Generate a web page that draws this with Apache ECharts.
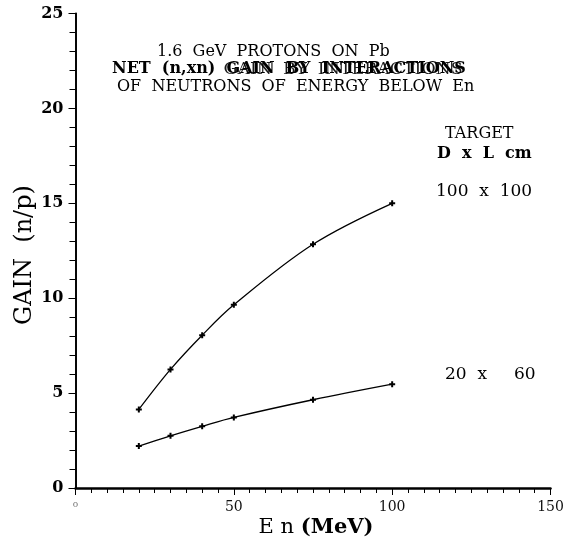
<!DOCTYPE html>
<html>
<head>
<meta charset="utf-8">
<script src="https://cdn.jsdelivr.net/npm/echarts@6/dist/echarts.min.js"></script>
<style>
  html, body { margin: 0; padding: 0; background: #fff; }
  #chart { width: 572px; height: 542px; }
</style>
</head>
<body>
<div id="chart"></div>
<script>
// Neutron energy cut (MeV) and net (n,xn) gain for two target sizes
const energy = [20, 30, 40, 50, 75, 100];
const gain100x100 = [4.14, 6.25, 8.05, 9.65, 12.84, 15.0];
const gain20x60 = [2.21, 2.75, 3.25, 3.72, 4.65, 5.47];

const xRange = [0, 150];
const yRange = [0, 25];

const SERIF = 'DejaVu Serif';
const INK = '#000';

function toPairs(xs, ys) {
  return xs.map((x, i) => [x, ys[i]]);
}

// width of a string in a given font, used to line up the overprinted heading
function textWidth(text, weight, size) {
  const ctx = document.createElement('canvas').getContext('2d');
  ctx.font = weight + ' ' + size + 'px "' + SERIF + '"';
  return ctx.measureText(text).width;
}

const markerPath = 'path://M2,0H4V2H6V4H4V6H2V4H0V2H2Z';

function curve(name, values) {
  return {
    name: name,
    type: 'line',
    xAxisIndex: 0,
    yAxisIndex: 0,
    data: toPairs(energy, values),
    smooth: 0.35,
    symbol: markerPath,
    symbolSize: 6,
    itemStyle: { color: INK },
    lineStyle: { color: INK, width: 1.3 },
    animation: false
  };
}

function label(left, top, text, size, weight, extra) {
  return {
    type: 'text', left: left, top: top,
    style: Object.assign({ text: text, fontFamily: SERIF, fontSize: size, fontWeight: weight || 'normal', fill: INK }, extra || {})
  };
}

// second heading line is printed twice (bold, then a lighter pass slightly offset)
const headLead = 'NET  (n,xn)  ';
const headTail = 'GAIN  BY  INTERACTIONS';
const headLeft = 112;
const headSize = 16;
const tailX = headLeft + textWidth(headLead, 'bold', headSize);
const overSize = headSize * textWidth(headTail, 'bold', headSize) / textWidth(headTail, 'normal', headSize);

const chart = echarts.init(document.getElementById('chart'), null, { renderer: 'canvas' });

chart.setOption({
  backgroundColor: '#fff',
  animation: false,
  grid: { left: 75.5, right: 21.5, top: 13.5, bottom: 54, containLabel: false },
  xAxis: [
    {
      type: 'value', position: 'bottom', min: xRange[0], max: xRange[1], interval: 50,
      axisLine: { lineStyle: { color: INK, width: 2.5 } },
      axisTick: { length: 7, lineStyle: { color: INK, width: 1 } },
      splitLine: { show: false },
      axisLabel: {
        margin: 12, fontFamily: SERIF, fontSize: 14, color: '#111',
        formatter: v => (v === 0 ? '{o|o}' : String(v)),
        rich: { o: { fontSize: 9, color: '#777', fontFamily: SERIF } }
      }
    },
    {
      type: 'value', position: 'top', min: xRange[0], max: xRange[1], interval: 5,
      axisLine: { lineStyle: { color: INK, width: 1 } },
      axisTick: { inside: true, length: 5, lineStyle: { color: INK, width: 1 } },
      axisLabel: { show: false },
      splitLine: { show: false }
    }
  ],
  yAxis: [
    {
      type: 'value', position: 'left', min: yRange[0], max: yRange[1], interval: 5,
      axisLine: { lineStyle: { color: INK, width: 1.5 } },
      axisTick: { length: 7, lineStyle: { color: INK, width: 1 } },
      minorTick: { show: true, splitNumber: 5, length: 5, lineStyle: { color: INK, width: 1 } },
      splitLine: { show: false },
      axisLabel: { margin: 12, fontFamily: SERIF, fontSize: 16, fontWeight: 'bold', color: INK }
    },
    {
      type: 'value', position: 'right', min: yRange[0], max: yRange[1], interval: 1,
      axisLine: { lineStyle: { color: INK, width: 1.8 } },
      axisTick: { inside: true, length: 6, lineStyle: { color: INK, width: 1 } },
      axisLabel: { show: false },
      splitLine: { show: false }
    }
  ],
  series: [
    curve('100 x 100', gain100x100),
    curve('20 x 60', gain20x60)
  ],
  graphic: [
    label(157, 44, '1.6  GeV  PROTONS  ON  Pb', 16),
    label(headLeft, 61, headLead + headTail, headSize, 'bold'),
    label(tailX - 3, 61, headTail, overSize, 'normal', { opacity: 0.9 }),
    label(117, 79, 'OF  NEUTRONS  OF  ENERGY  BELOW  En', 16),
    label(445, 126, 'TARGET', 16),
    label(437, 146, 'D  x  L  cm', 16, 'bold'),
    label(436, 183, '100  x  100', 17),
    label(445, 366, '20  x     60', 17),
    {
      type: 'text', x: 25, y: 255, rotation: Math.PI / 2,
      style: { text: 'GAIN  (n/p)', fontFamily: SERIF, fontSize: 24, fill: INK, align: 'center', verticalAlign: 'middle' }
    },
    {
      type: 'text', x: 316, y: 528,
      style: {
        text: '{a|E n}  {b|(MeV)}', align: 'center', verticalAlign: 'middle',
        rich: {
          a: { fontFamily: SERIF, fontSize: 21, fill: INK },
          b: { fontFamily: SERIF, fontSize: 21, fontWeight: 'bold', fill: INK }
        }
      }
    }
  ]
});
</script>
</body>
</html>
